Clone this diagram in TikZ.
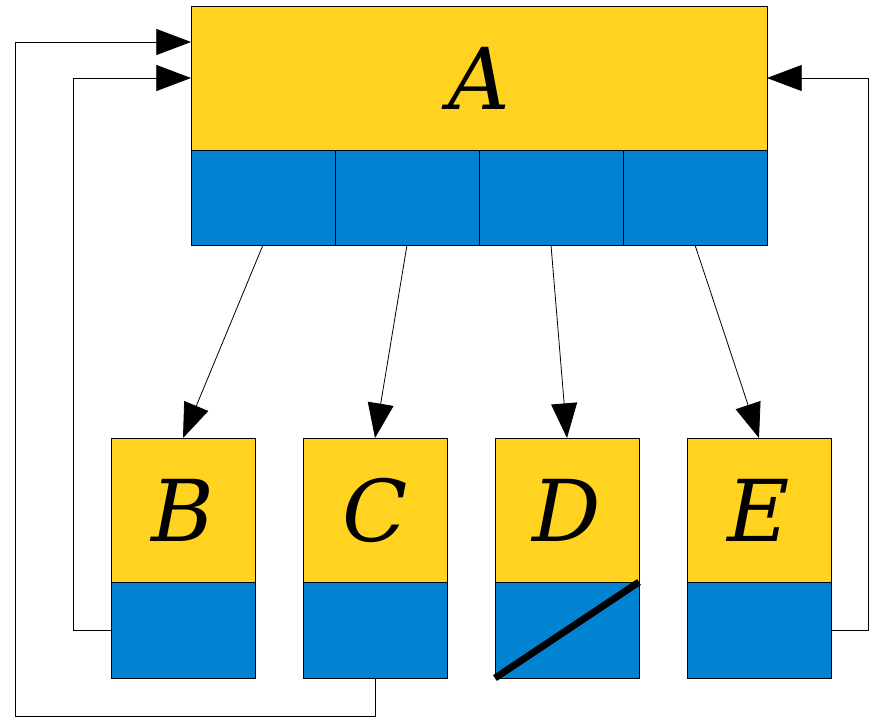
\documentclass[tikz,border=0pt]{standalone}
\usepackage{fontspec}
\setmainfont{DejaVu Serif}
\usetikzlibrary{arrows.meta}
\definecolor{yel}{HTML}{FFD320}
\definecolor{blu}{HTML}{0084D1}
\tikzset{
  ybox/.style={draw=black,line width=0.6pt,fill=yel,minimum width=108pt,minimum height=108pt,inner sep=0pt,outer sep=0pt,font=\fontsize{64}{64}\selectfont\itshape},
  bbox/.style={draw=black,line width=0.6pt,fill=blu,minimum width=108pt,minimum height=72pt,inner sep=0pt,outer sep=0pt},
  conn/.style={draw=black,line width=0.6pt,-{Triangle[length=26pt,width=19.5pt]}},
}
\begin{document}
\begin{tikzpicture}[x=0.75pt,y=-0.75pt]
\useasboundingbox (0,0) rectangle (877,719);
% top block
\node[ybox,minimum width=432pt] (A) at (479,78) {A};
\node[bbox,minimum height=71.25pt] (a1) at (263,197.5) {};
\node[bbox,minimum height=71.25pt] (a2) at (407,197.5) {};
\node[bbox,minimum height=71.25pt] (a3) at (551,197.5) {};
\node[bbox,minimum height=71.25pt] (a4) at (695,197.5) {};
% bottom blocks
\node[ybox] (B) at (183,510) {B};
\node[bbox] (bb) at (183,630) {};
\node[ybox] (C) at (375,510) {C};
\node[bbox] (cb) at (375,630) {};
\node[ybox] (D) at (567,510) {D};
\node[bbox] (db) at (567,630) {};
\node[ybox] (E) at (759,510) {E};
\node[bbox] (eb) at (759,630) {};
% D null marker
\draw[line width=5.2pt] (db.south west) -- (db.north east);
% pointers down
\draw[conn] (a1.south) -- (B.north);
\draw[conn] (a2.south) -- (C.north);
\draw[conn] (a3.south) -- (D.north);
\draw[conn] (a4.south) -- (E.north);
% feedback
\draw[conn] (bb.west) -- ++(-38,0) |- (A.west);
\coordinate (ain) at ([yshift=27pt]A.west);
\draw[conn] (cb.south) -- ++(0,38) -| ([xshift=-132pt]ain) -- (ain);
\draw[conn] (eb.east) -- ++(37,0) |- (A.east);
\end{tikzpicture}
\end{document}
